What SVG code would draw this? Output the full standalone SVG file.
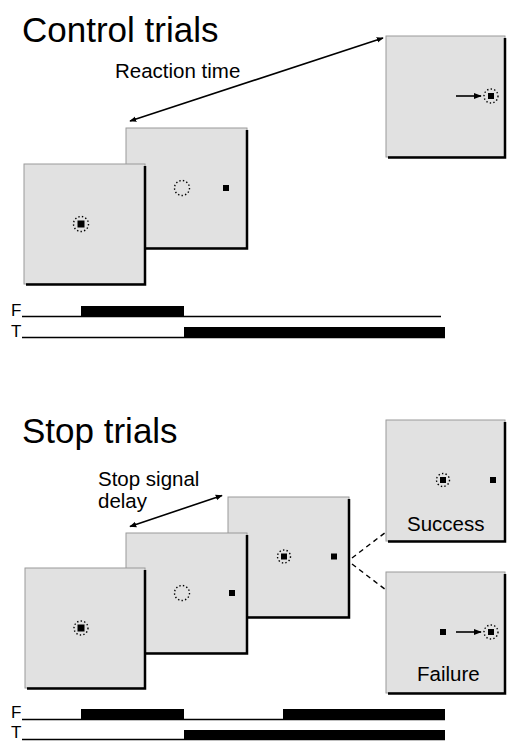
<svg xmlns="http://www.w3.org/2000/svg" width="507" height="742" viewBox="0 0 507 742">
<style>
.title{font-family:"Liberation Sans",Arial,sans-serif;font-size:35px;fill:#000}
.lbl{font-family:"Liberation Sans",Arial,sans-serif;font-size:20.5px;fill:#000}
.tl{font-family:"Liberation Sans",Arial,sans-serif;font-size:17px;fill:#000}
.scr{fill:#e1e1e1;stroke:#9a9a9a;stroke-width:1}
.shd{fill:none;stroke:#000;stroke-width:2.5}
.dot{fill:none;stroke:#000;stroke-width:1.4;stroke-dasharray:1.4 2.2}
.sq{fill:#000}
.arr{stroke:#000;stroke-width:1.6;fill:none}
.dash{stroke:#000;stroke-width:1.4;stroke-dasharray:5 4;fill:none}
.base{stroke:#000;stroke-width:1.4;fill:none}
</style>
<defs>
<marker id="ah" viewBox="0 0 10 10" refX="9" refY="5" markerWidth="7" markerHeight="7" orient="auto-start-reverse" markerUnits="userSpaceOnUse">
<path d="M0,1 L10,5 L0,9 Z" fill="#000"/>
</marker>
<marker id="ah2" viewBox="0 0 10 10" refX="9" refY="5" markerWidth="8" markerHeight="8" orient="auto" markerUnits="userSpaceOnUse">
<path d="M0,1 L10,5 L0,9 Z" fill="#000"/>
</marker>
</defs>

<text class="title" x="22" y="42">Control trials</text>
<text class="title" x="22" y="443">Stop trials</text>

<g id="ctrl-box2">
<rect class="scr" x="126" y="128" width="121" height="120"/>
<path class="shd" d="M247,130 V248.5 H128"/>
<circle class="dot" cx="182" cy="188" r="7.5"/>
<rect class="sq" x="223" y="185" width="6" height="6"/>
</g>
<g id="ctrl-box1">
<rect class="scr" x="24" y="164" width="121" height="120"/>
<path class="shd" d="M145,166 V284.5 H26"/>
<circle class="dot" cx="81" cy="224" r="7.5"/>
<rect class="sq" x="77.5" y="220.5" width="7" height="7"/>
</g>
<g id="ctrl-box3">
<rect class="scr" x="386" y="36" width="119" height="121"/>
<path class="shd" d="M505,38 V157.5 H388"/>
<circle class="dot" cx="491" cy="96" r="7"/>
<rect class="sq" x="488" y="93" width="6" height="6"/>
<line class="arr" x1="456" y1="96" x2="481" y2="96" marker-end="url(#ah2)"/>
</g>

<g id="connectors">
<line class="arr" x1="130" y1="121" x2="383" y2="38" marker-start="url(#ah)" marker-end="url(#ah)"/>
<line class="arr" x1="130" y1="526.5" x2="222" y2="495.5" marker-start="url(#ah)" marker-end="url(#ah)"/>
<line class="dash" x1="352" y1="558" x2="386" y2="532"/>
<line class="dash" x1="352" y1="564" x2="386" y2="590"/>
</g>

<text class="lbl" x="115" y="78">Reaction time</text>
<text class="lbl" x="98" y="486" font-size="19.5">Stop signal<tspan x="98" y="508">delay</tspan></text>

<g id="ctrl-timeline">
<text class="tl" x="11" y="316">F</text>
<text class="tl" x="11" y="337">T</text>
<line class="base" x1="22" y1="316.5" x2="441" y2="316.5"/>
<rect x="81" y="306" width="103" height="11" fill="#000"/>
<line class="base" x1="22" y1="337.5" x2="445" y2="337.5"/>
<rect x="184" y="327" width="261" height="11" fill="#000"/>
</g>

<g id="stop-box3">
<rect class="scr" x="228" y="497" width="121" height="120"/>
<path class="shd" d="M349,499 V617.5 H230"/>
<circle class="dot" cx="284" cy="556.5" r="6.5"/>
<rect class="sq" x="281" y="553.5" width="6" height="6"/>
<rect class="sq" x="331" y="553.5" width="6" height="6"/>
</g>
<g id="stop-box2">
<rect class="scr" x="126" y="533" width="121" height="120"/>
<path class="shd" d="M247,535 V653.5 H128"/>
<circle class="dot" cx="182" cy="593" r="7.5"/>
<rect class="sq" x="229" y="590" width="6" height="6"/>
</g>
<g id="stop-box1">
<rect class="scr" x="25" y="568" width="120" height="120"/>
<path class="shd" d="M145,570 V688.5 H27"/>
<circle class="dot" cx="81" cy="628" r="7"/>
<rect class="sq" x="77.5" y="624.5" width="7" height="7"/>
</g>
<g id="success-box">
<rect class="scr" x="386" y="420" width="119" height="121"/>
<path class="shd" d="M505,422 V541.5 H388"/>
<circle class="dot" cx="443" cy="480" r="6.5"/>
<rect class="sq" x="440" y="477" width="6" height="6"/>
<rect class="sq" x="490" y="477" width="6" height="6"/>
<text class="lbl" x="407" y="531">Success</text>
</g>
<g id="failure-box">
<rect class="scr" x="386" y="572" width="119" height="121"/>
<path class="shd" d="M505,574 V693.5 H388"/>
<rect class="sq" x="440" y="629" width="6" height="6"/>
<line class="arr" x1="456" y1="632" x2="481" y2="632" marker-end="url(#ah2)"/>
<circle class="dot" cx="491" cy="632" r="7"/>
<rect class="sq" x="488" y="629" width="6" height="6"/>
<text class="lbl" x="417" y="681">Failure</text>
</g>

<g id="stop-timeline">
<text class="tl" x="11" y="718">F</text>
<text class="tl" x="11" y="738" font-size="16">T</text>
<line class="base" x1="22" y1="719.5" x2="445" y2="719.5"/>
<rect x="81" y="709" width="103" height="11" fill="#000"/>
<rect x="283" y="709" width="162" height="11" fill="#000"/>
<line class="base" x1="22" y1="739.5" x2="445" y2="739.5"/>
<rect x="184" y="730" width="261" height="10" fill="#000"/>
</g>
</svg>
